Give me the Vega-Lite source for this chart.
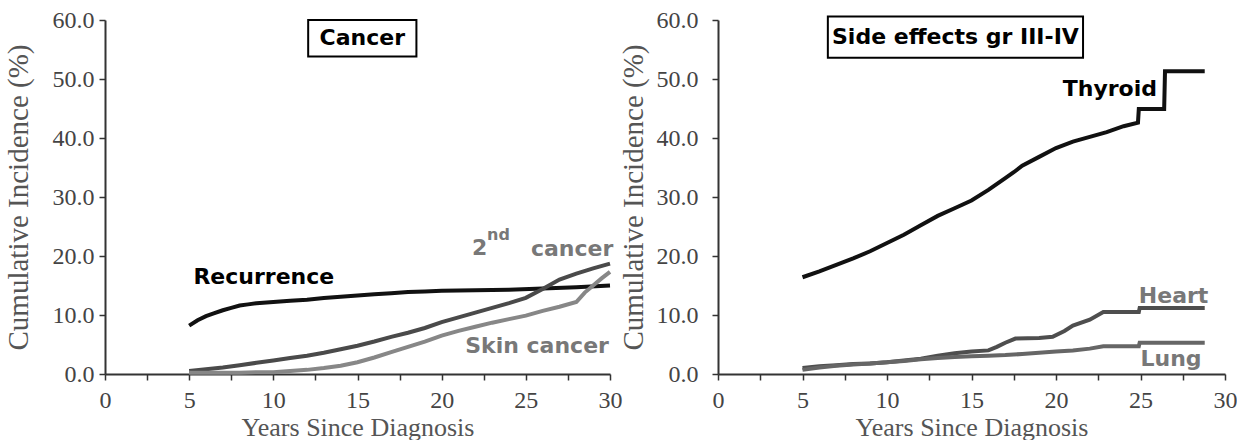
{
  "$schema": "https://vega.github.io/schema/vega-lite/v6.json",
  "background": "white",
  "padding": {"left": 4, "top": 8, "right": 0, "bottom": 0},
  "spacing": -3,
  "datasets": {
    "cancer": [
      {"series": "Recurrence", "year": 5, "incidence": 8.2},
      {"series": "Recurrence", "year": 5.5, "incidence": 9.1},
      {"series": "Recurrence", "year": 6, "incidence": 9.8},
      {"series": "Recurrence", "year": 6.5, "incidence": 10.3},
      {"series": "Recurrence", "year": 7, "incidence": 10.8},
      {"series": "Recurrence", "year": 7.5, "incidence": 11.2},
      {"series": "Recurrence", "year": 8, "incidence": 11.6},
      {"series": "Recurrence", "year": 8.5, "incidence": 11.8},
      {"series": "Recurrence", "year": 9, "incidence": 12.0},
      {"series": "Recurrence", "year": 10, "incidence": 12.2},
      {"series": "Recurrence", "year": 11, "incidence": 12.4},
      {"series": "Recurrence", "year": 12, "incidence": 12.6},
      {"series": "Recurrence", "year": 13, "incidence": 12.9},
      {"series": "Recurrence", "year": 14, "incidence": 13.1},
      {"series": "Recurrence", "year": 15, "incidence": 13.3},
      {"series": "Recurrence", "year": 16, "incidence": 13.5},
      {"series": "Recurrence", "year": 17, "incidence": 13.7},
      {"series": "Recurrence", "year": 18, "incidence": 13.9},
      {"series": "Recurrence", "year": 19, "incidence": 14.0},
      {"series": "Recurrence", "year": 20, "incidence": 14.1},
      {"series": "Recurrence", "year": 22, "incidence": 14.2},
      {"series": "Recurrence", "year": 24, "incidence": 14.3},
      {"series": "Recurrence", "year": 26, "incidence": 14.5},
      {"series": "Recurrence", "year": 28, "incidence": 14.7},
      {"series": "Recurrence", "year": 30, "incidence": 15.0},
      {"series": "2nd cancer", "year": 5, "incidence": 0.5},
      {"series": "2nd cancer", "year": 6, "incidence": 0.8},
      {"series": "2nd cancer", "year": 7, "incidence": 1.1},
      {"series": "2nd cancer", "year": 8, "incidence": 1.5},
      {"series": "2nd cancer", "year": 9, "incidence": 1.9},
      {"series": "2nd cancer", "year": 10, "incidence": 2.3},
      {"series": "2nd cancer", "year": 11, "incidence": 2.7},
      {"series": "2nd cancer", "year": 12, "incidence": 3.1},
      {"series": "2nd cancer", "year": 13, "incidence": 3.6},
      {"series": "2nd cancer", "year": 14, "incidence": 4.2},
      {"series": "2nd cancer", "year": 15, "incidence": 4.8},
      {"series": "2nd cancer", "year": 16, "incidence": 5.5},
      {"series": "2nd cancer", "year": 17, "incidence": 6.3},
      {"series": "2nd cancer", "year": 18, "incidence": 7.0},
      {"series": "2nd cancer", "year": 19, "incidence": 7.8},
      {"series": "2nd cancer", "year": 20, "incidence": 8.8},
      {"series": "2nd cancer", "year": 21, "incidence": 9.6},
      {"series": "2nd cancer", "year": 22, "incidence": 10.4},
      {"series": "2nd cancer", "year": 23, "incidence": 11.2},
      {"series": "2nd cancer", "year": 24, "incidence": 12.0},
      {"series": "2nd cancer", "year": 25, "incidence": 12.9},
      {"series": "2nd cancer", "year": 26, "incidence": 14.4},
      {"series": "2nd cancer", "year": 27, "incidence": 16.0},
      {"series": "2nd cancer", "year": 28, "incidence": 17.0},
      {"series": "2nd cancer", "year": 29, "incidence": 17.9},
      {"series": "2nd cancer", "year": 30, "incidence": 18.7},
      {"series": "Skin cancer", "year": 5, "incidence": 0.2},
      {"series": "Skin cancer", "year": 6, "incidence": 0.2},
      {"series": "Skin cancer", "year": 7, "incidence": 0.2},
      {"series": "Skin cancer", "year": 8, "incidence": 0.2},
      {"series": "Skin cancer", "year": 9, "incidence": 0.3},
      {"series": "Skin cancer", "year": 10, "incidence": 0.3},
      {"series": "Skin cancer", "year": 11, "incidence": 0.5},
      {"series": "Skin cancer", "year": 12, "incidence": 0.7},
      {"series": "Skin cancer", "year": 13, "incidence": 1.0},
      {"series": "Skin cancer", "year": 14, "incidence": 1.4},
      {"series": "Skin cancer", "year": 15, "incidence": 2.0},
      {"series": "Skin cancer", "year": 16, "incidence": 2.8},
      {"series": "Skin cancer", "year": 17, "incidence": 3.7},
      {"series": "Skin cancer", "year": 18, "incidence": 4.6},
      {"series": "Skin cancer", "year": 19, "incidence": 5.5},
      {"series": "Skin cancer", "year": 20, "incidence": 6.5},
      {"series": "Skin cancer", "year": 21, "incidence": 7.3},
      {"series": "Skin cancer", "year": 22, "incidence": 8.0},
      {"series": "Skin cancer", "year": 23, "incidence": 8.7},
      {"series": "Skin cancer", "year": 24, "incidence": 9.3},
      {"series": "Skin cancer", "year": 25, "incidence": 9.9},
      {"series": "Skin cancer", "year": 26, "incidence": 10.7},
      {"series": "Skin cancer", "year": 27, "incidence": 11.4},
      {"series": "Skin cancer", "year": 28, "incidence": 12.2},
      {"series": "Skin cancer", "year": 28.5, "incidence": 13.8},
      {"series": "Skin cancer", "year": 29, "incidence": 15.0},
      {"series": "Skin cancer", "year": 29.5, "incidence": 16.2},
      {"series": "Skin cancer", "year": 30, "incidence": 17.3}
    ],
    "side": [
      {"series": "Thyroid", "year": 5, "incidence": 16.4},
      {"series": "Thyroid", "year": 6, "incidence": 17.4},
      {"series": "Thyroid", "year": 7, "incidence": 18.5},
      {"series": "Thyroid", "year": 8, "incidence": 19.6},
      {"series": "Thyroid", "year": 9, "incidence": 20.8},
      {"series": "Thyroid", "year": 10, "incidence": 22.2},
      {"series": "Thyroid", "year": 11, "incidence": 23.6},
      {"series": "Thyroid", "year": 12, "incidence": 25.2},
      {"series": "Thyroid", "year": 13, "incidence": 26.8},
      {"series": "Thyroid", "year": 14, "incidence": 28.1},
      {"series": "Thyroid", "year": 15, "incidence": 29.4},
      {"series": "Thyroid", "year": 16, "incidence": 31.2},
      {"series": "Thyroid", "year": 17, "incidence": 33.2},
      {"series": "Thyroid", "year": 17.5, "incidence": 34.2},
      {"series": "Thyroid", "year": 18, "incidence": 35.3},
      {"series": "Thyroid", "year": 19, "incidence": 36.8},
      {"series": "Thyroid", "year": 20, "incidence": 38.3},
      {"series": "Thyroid", "year": 21, "incidence": 39.4},
      {"series": "Thyroid", "year": 22, "incidence": 40.2},
      {"series": "Thyroid", "year": 23, "incidence": 41.0},
      {"series": "Thyroid", "year": 24, "incidence": 42.0},
      {"series": "Thyroid", "year": 24.85, "incidence": 42.6},
      {"series": "Thyroid", "year": 24.9, "incidence": 44.9},
      {"series": "Thyroid", "year": 26.4, "incidence": 44.9},
      {"series": "Thyroid", "year": 26.45, "incidence": 51.3},
      {"series": "Thyroid", "year": 28.8, "incidence": 51.3},
      {"series": "Heart", "year": 5, "incidence": 1.0},
      {"series": "Heart", "year": 6, "incidence": 1.3},
      {"series": "Heart", "year": 7, "incidence": 1.5},
      {"series": "Heart", "year": 8, "incidence": 1.7},
      {"series": "Heart", "year": 9, "incidence": 1.8},
      {"series": "Heart", "year": 10, "incidence": 2.0},
      {"series": "Heart", "year": 11, "incidence": 2.3},
      {"series": "Heart", "year": 12, "incidence": 2.6},
      {"series": "Heart", "year": 13, "incidence": 3.1},
      {"series": "Heart", "year": 14, "incidence": 3.5},
      {"series": "Heart", "year": 15, "incidence": 3.8},
      {"series": "Heart", "year": 16, "incidence": 4.0},
      {"series": "Heart", "year": 16.5, "incidence": 4.6},
      {"series": "Heart", "year": 17, "incidence": 5.3},
      {"series": "Heart", "year": 17.6, "incidence": 6.0},
      {"series": "Heart", "year": 19, "incidence": 6.1},
      {"series": "Heart", "year": 19.8, "incidence": 6.3},
      {"series": "Heart", "year": 20.5, "incidence": 7.3},
      {"series": "Heart", "year": 21, "incidence": 8.2},
      {"series": "Heart", "year": 22, "incidence": 9.2},
      {"series": "Heart", "year": 22.8, "incidence": 10.5},
      {"series": "Heart", "year": 24.9, "incidence": 10.5},
      {"series": "Heart", "year": 24.95, "incidence": 11.2},
      {"series": "Heart", "year": 28.8, "incidence": 11.2},
      {"series": "Lung", "year": 5, "incidence": 0.7},
      {"series": "Lung", "year": 6, "incidence": 1.1},
      {"series": "Lung", "year": 7, "incidence": 1.4},
      {"series": "Lung", "year": 8, "incidence": 1.6},
      {"series": "Lung", "year": 9, "incidence": 1.8},
      {"series": "Lung", "year": 10, "incidence": 2.0},
      {"series": "Lung", "year": 11, "incidence": 2.2},
      {"series": "Lung", "year": 12, "incidence": 2.5},
      {"series": "Lung", "year": 13, "incidence": 2.7},
      {"series": "Lung", "year": 14, "incidence": 2.9},
      {"series": "Lung", "year": 15, "incidence": 3.0},
      {"series": "Lung", "year": 16, "incidence": 3.1},
      {"series": "Lung", "year": 17, "incidence": 3.2},
      {"series": "Lung", "year": 18, "incidence": 3.4},
      {"series": "Lung", "year": 19, "incidence": 3.6},
      {"series": "Lung", "year": 20, "incidence": 3.8},
      {"series": "Lung", "year": 21, "incidence": 4.0},
      {"series": "Lung", "year": 22, "incidence": 4.3},
      {"series": "Lung", "year": 22.8, "incidence": 4.7},
      {"series": "Lung", "year": 24.9, "incidence": 4.7},
      {"series": "Lung", "year": 24.95, "incidence": 5.3},
      {"series": "Lung", "year": 28.8, "incidence": 5.3}
    ],
    "labelsL": [
      {"label": "Recurrence", "year": 5.25, "incidence": 16.4},
      {"label": "2", "year": 21.8, "incidence": 21.4},
      {"label": "cancer", "year": 25.3, "incidence": 21.2},
      {"label": "Skin cancer", "year": 21.4, "incidence": 4.7}
    ],
    "supL": [
      {"label": "nd", "year": 22.7, "incidence": 23.5}
    ],
    "labelsR": [
      {"label": "Thyroid", "year": 20.4, "incidence": 48.3},
      {"label": "Heart", "year": 24.9, "incidence": 13.3},
      {"label": "Lung", "year": 25.0, "incidence": 2.5}
    ],
    "boxL": [
      {"title": "Cancer", "year": 12.07, "year2": 18.5, "incidence": 53.8, "incidence2": 60.0}
    ],
    "boxR": [
      {"title": "Side effects gr III-IV", "year": 6.5, "year2": 21.6, "incidence": 53.6, "incidence2": 60.6}
    ]
  },
  "hconcat": [
    {
      "width": 505,
      "height": 354,
      "layer": [
        {
          "data": {"name": "cancer"},
          "mark": {"type": "line", "strokeWidth": 4},
          "encoding": {
            "x": {"field": "year", "type": "quantitative", "scale": {"domain": [0, 30], "nice": false},
              "axis": {"title": "Years Since Diagnosis", "values": [0, 2.5, 5, 7.5, 10, 12.5, 15, 17.5, 20, 22.5, 25, 27.5, 30],
                "labelExpr": "datum.value % 5 == 0 ? format(datum.value, 'd') : ''"}},
            "y": {"field": "incidence", "type": "quantitative", "scale": {"domain": [0, 60], "nice": false},
              "axis": {"title": "Cumulative Incidence (%)", "values": [0, 5, 10, 15, 20, 25, 30, 35, 40, 45, 50, 55, 60],
                "labelExpr": "datum.value % 10 == 0 ? format(datum.value, '.1f') : ''",
                "labelPadding": 5, "minExtent": 62, "maxExtent": 62, "titlePadding": 10}},
            "color": {"field": "series", "type": "nominal", "legend": null,
              "scale": {"domain": ["Recurrence", "2nd cancer", "Skin cancer"], "range": ["#111111", "#4a4a4a", "#878787"]}}
          }
        },
        {
          "data": {"name": "boxL"},
          "mark": {"type": "rect", "fill": "white", "stroke": "black", "strokeWidth": 2},
          "encoding": {
            "x": {"field": "year", "type": "quantitative"},
            "x2": {"field": "year2"},
            "y": {"field": "incidence", "type": "quantitative"},
            "y2": {"field": "incidence2"}
          }
        },
        {
          "data": {"name": "boxL"},
          "transform": [{"calculate": "(datum.year + datum.year2) / 2", "as": "mid"}, {"calculate": "(datum.incidence + datum.incidence2) / 2", "as": "midy"}],
          "mark": {"type": "text", "font": "DejaVu Sans", "fontWeight": "bold", "fontSize": 22, "color": "black", "baseline": "middle", "align": "center"},
          "encoding": {
            "x": {"field": "mid", "type": "quantitative"},
            "y": {"field": "midy", "type": "quantitative"},
            "text": {"field": "title"}
          }
        },
        {
          "data": {"name": "labelsL"},
          "transform": [{"filter": "datum.label == 'Recurrence'"}],
          "mark": {"type": "text", "font": "DejaVu Sans", "fontWeight": "bold", "fontSize": 22, "color": "black", "baseline": "middle", "align": "left"},
          "encoding": {
            "x": {"field": "year", "type": "quantitative"},
            "y": {"field": "incidence", "type": "quantitative"},
            "text": {"field": "label"}
          }
        },
        {
          "data": {"name": "labelsL"},
          "transform": [{"filter": "datum.label != 'Recurrence'"}],
          "mark": {"type": "text", "font": "DejaVu Sans", "fontWeight": "bold", "fontSize": 22, "color": "#787878", "baseline": "middle", "align": "left"},
          "encoding": {
            "x": {"field": "year", "type": "quantitative"},
            "y": {"field": "incidence", "type": "quantitative"},
            "text": {"field": "label"}
          }
        },
        {
          "data": {"name": "supL"},
          "mark": {"type": "text", "font": "DejaVu Sans", "fontWeight": "bold", "fontSize": 16, "color": "#787878", "baseline": "middle", "align": "left"},
          "encoding": {
            "x": {"field": "year", "type": "quantitative"},
            "y": {"field": "incidence", "type": "quantitative"},
            "text": {"field": "label"}
          }
        }
      ]
    },
    {
      "width": 507,
      "height": 354,
      "layer": [
        {
          "data": {"name": "side"},
          "mark": {"type": "line", "strokeWidth": 4},
          "encoding": {
            "x": {"field": "year", "type": "quantitative", "scale": {"domain": [0, 30], "nice": false},
              "axis": {"title": "Years Since Diagnosis", "values": [0, 2.5, 5, 7.5, 10, 12.5, 15, 17.5, 20, 22.5, 25, 27.5, 30],
                "labelExpr": "datum.value % 5 == 0 ? format(datum.value, 'd') : ''"}},
            "y": {"field": "incidence", "type": "quantitative", "scale": {"domain": [0, 60], "nice": false},
              "axis": {"title": "Cumulative Incidence (%)", "values": [0, 5, 10, 15, 20, 25, 30, 35, 40, 45, 50, 55, 60],
                "labelExpr": "datum.value % 10 == 0 ? format(datum.value, '.1f') : ''",
                "labelPadding": 14, "minExtent": 62, "maxExtent": 62, "titlePadding": 8}},
            "color": {"field": "series", "type": "nominal", "legend": null,
              "scale": {"domain": ["Thyroid", "Heart", "Lung"], "range": ["#111111", "#4e4e4e", "#666666"]}}
          }
        },
        {
          "data": {"name": "boxR"},
          "mark": {"type": "rect", "fill": "white", "stroke": "black", "strokeWidth": 2},
          "encoding": {
            "x": {"field": "year", "type": "quantitative"},
            "x2": {"field": "year2"},
            "y": {"field": "incidence", "type": "quantitative"},
            "y2": {"field": "incidence2"}
          }
        },
        {
          "data": {"name": "boxR"},
          "transform": [{"calculate": "(datum.year + datum.year2) / 2", "as": "mid"}, {"calculate": "(datum.incidence + datum.incidence2) / 2", "as": "midy"}],
          "mark": {"type": "text", "font": "DejaVu Sans", "fontWeight": "bold", "fontSize": 22, "color": "black", "baseline": "middle", "align": "center"},
          "encoding": {
            "x": {"field": "mid", "type": "quantitative"},
            "y": {"field": "midy", "type": "quantitative"},
            "text": {"field": "title"}
          }
        },
        {
          "data": {"name": "labelsR"},
          "transform": [{"filter": "datum.label == 'Thyroid'"}],
          "mark": {"type": "text", "font": "DejaVu Sans", "fontWeight": "bold", "fontSize": 22, "color": "black", "baseline": "middle", "align": "left"},
          "encoding": {
            "x": {"field": "year", "type": "quantitative"},
            "y": {"field": "incidence", "type": "quantitative"},
            "text": {"field": "label"}
          }
        },
        {
          "data": {"name": "labelsR"},
          "transform": [{"filter": "datum.label != 'Thyroid'"}],
          "mark": {"type": "text", "font": "DejaVu Sans", "fontWeight": "bold", "fontSize": 22, "color": "#787878", "baseline": "middle", "align": "left"},
          "encoding": {
            "x": {"field": "year", "type": "quantitative"},
            "y": {"field": "incidence", "type": "quantitative"},
            "text": {"field": "label"}
          }
        }
      ]
    }
  ],
  "resolve": {"scale": {"color": "independent"}},
  "config": {
    "view": {"stroke": null},
    "axis": {
      "grid": false,
      "domainColor": "#333333",
      "domainWidth": 2,
      "tickColor": "#333333",
      "tickWidth": 1.5,
      "tickSize": 6,
      "labelFont": "Liberation Serif",
      "labelFontSize": 24,
      "labelColor": "#444444",
      "titleFont": "Liberation Serif",
      "titleFontWeight": "normal",
      "titleColor": "#555555"
    },
    "axisX": {"labelPadding": 8, "titleFontSize": 26, "titlePadding": 2, "labelFlush": false},
    "axisY": {"titleFontSize": 29}
  }
}
